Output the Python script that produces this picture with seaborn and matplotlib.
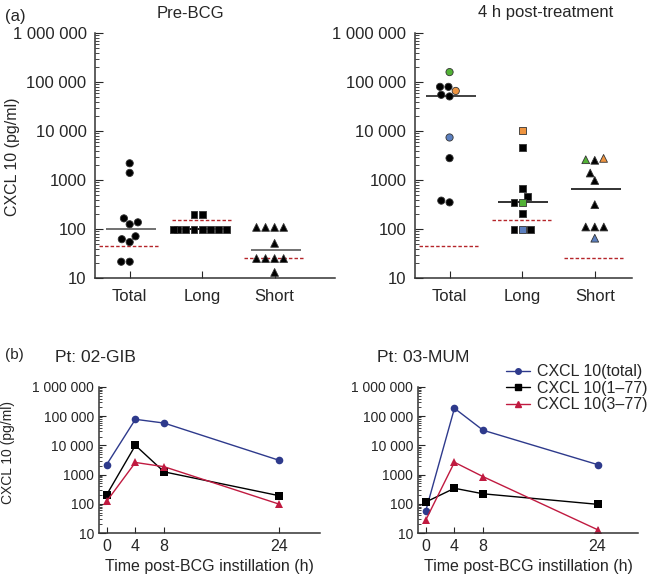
import numpy as np
import pandas as pd
import matplotlib
matplotlib.use('Agg')
import matplotlib.pyplot as plt
import seaborn as sns
import warnings

warnings.filterwarnings('ignore')

# ---- panel (a) data ----
groups = ['Total', 'Long', 'Short']
pre_total = [2200, 1400, 165, 125, 137, 62, 54, 71, 21.5, 21.5]
pre_long = [195, 195, 100, 100, 100, 100, 100, 100, 100, 100]
pre_short = [108, 108, 108, 108, 51, 25, 25, 25, 25, 13]
post_total = [160000, 80000, 80000, 66000, 55000, 51000, 7400, 2800, 350, 380]
post_total_pt = ['G', 'k', 'k', 'O', 'k', 'k', 'B', 'k', 'k', 'k']
post_long = [10100, 4600, 660, 470, 355, 355, 210, 100, 100, 100]
post_long_pt = ['O', 'k', 'k', 'k', 'G', 'k', 'k', 'B', 'k', 'k']
post_short = [2770, 2530, 2600, 1390, 980, 315, 110, 110, 110, 65]
post_short_pt = ['O', 'k', 'G', 'k', 'k', 'k', 'k', 'k', 'k', 'B']
cutoff = [44, 150, 26]

# ---- panel (b) data ----
times = [0, 4, 8, 24]
forms = ['CXCL 10(total)', 'CXCL 10(1\u201377)', 'CXCL 10(3\u201377)']
gib_total = [2200, 78000, 58000, 3100]
gib_177 = [205, 10000, 1240, 190]
gib_377 = [122, 2600, 1860, 98]
mum_total = [58, 186000, 33000, 2200]
mum_177 = [115, 340, 220, 96]
mum_377 = [28, 2640, 850, 13]

pt_colors = {'k': 'black', 'G': '#52b236', 'O': '#ee9440', 'B': '#5b7fbf'}
line_colors = ['#2e3a8c', 'black', '#c01a40']
markers = ['o', 's', '^']

sns.set_style('ticks')
plt.rcParams['font.family'] = ['Liberation Sans', 'DejaVu Sans']

fig = plt.figure(figsize=(6.5, 5.81), dpi=100)
ax1 = fig.add_axes([0.146, 0.5215, 0.369, 0.4215])
ax2 = fig.add_axes([0.638, 0.5215, 0.334, 0.4215])
ax3 = fig.add_axes([0.152, 0.0826, 0.340, 0.2514])
ax4 = fig.add_axes([0.643, 0.0826, 0.339, 0.2514])

yt = [10, 100, 1000, 10000, 100000, 1000000]
ylab = ['10', '100', '1000', '10 000', '100 000', '1 000 000']


def scatter_panel(ax, vals, pts, med_colors, xmax):
    ax.set_yscale('log')
    ax.set_ylim(10, 1e6)
    sizes = [5.2, 5.0, 5.6]
    for i, g in enumerate(groups):
        df = pd.DataFrame({'group': g, 'value': vals[i], 'pt': pts[i]})
        sns.swarmplot(data=df, x='group', y='value', hue='pt', order=groups,
                      palette=pt_colors, marker=markers[i], size=sizes[i],
                      linewidth=0.6, edgecolor='#333333', legend=False, ax=ax)
        ax.hlines(np.median(vals[i]), i - 0.33, i + 0.36, color=med_colors[i],
                  lw=1.3, zorder=1)
        ax.hlines(cutoff[i], i - 0.42, i + 0.42, color='#b5252a', lw=1,
                  linestyles=(0, (2.5, 1.5)), zorder=1)
    ax.set_xlim(-0.48, xmax)
    ax.set_yticks(yt)
    ax.set_yticklabels(ylab)
    ax.set_xlabel('')
    ax.set_ylabel('')
    ax.tick_params(axis='y', which='both', direction='in', labelsize=12, pad=6)
    ax.tick_params(axis='y', which='major', length=6)
    ax.tick_params(axis='y', which='minor', length=3)
    ax.tick_params(axis='x', direction='in', length=5, labelsize=12, pad=8)
    sns.despine(ax=ax)
    for s in ['left', 'bottom']:
        ax.spines[s].set_color('#333333')
        ax.spines[s].set_linewidth(1.1)


scatter_panel(ax1, [pre_total, pre_long, pre_short], [['k'] * 10] * 3,
              ['#666666', 'black', '#666666'], 2.83)
scatter_panel(ax2, [post_total, post_long, post_short],
              [post_total_pt, post_long_pt, post_short_pt],
              ['#333333', '#222222', '#222222'], 2.51)


def time_panel(ax, series):
    rows = []
    for f, s in zip(forms, series):
        for t, v in zip(times, s):
            rows.append({'time': t, 'value': v, 'form': f})
    df = pd.DataFrame(rows)
    ax.set_yscale('log')
    sns.lineplot(data=df, x='time', y='value', hue='form', style='form',
                 hue_order=forms, style_order=forms, palette=line_colors,
                 markers=markers, dashes=False, markersize=5.5, lw=1,
                 markeredgewidth=0, legend=False, ax=ax)
    ax.set_ylim(10, 1e6)
    ax.set_xlim(-1.1, 29.7)
    ax.set_xticks(times)
    ax.set_yticks(yt)
    ax.set_yticklabels(ylab)
    ax.set_ylabel('')
    ax.set_xlabel('Time post-BCG instillation (h)', fontsize=11.5, labelpad=4)
    ax.tick_params(axis='y', which='both', direction='in', labelsize=10)
    ax.tick_params(axis='y', which='major', length=5)
    ax.tick_params(axis='y', which='minor', length=2.5)
    ax.tick_params(axis='x', direction='in', length=4, labelsize=11.5, pad=4)
    sns.despine(ax=ax)
    for s in ['left', 'bottom']:
        ax.spines[s].set_color('#333333')
        ax.spines[s].set_linewidth(1.1)


time_panel(ax3, [gib_total, gib_177, gib_377])
time_panel(ax4, [mum_total, mum_177, mum_377])

handles = [plt.Line2D([], [], color=c, marker=m, markersize=4, lw=1)
           for c, m in zip(line_colors, markers)]
ax4.legend(handles, forms, loc='upper right', bbox_to_anchor=(1.07, 1.2),
           frameon=False, fontsize=11.5, handlelength=1.5, handletextpad=0.4,
           labelspacing=0.1, borderaxespad=0)

fig.text(5 / 650, 1 - 16 / 581, '(a)', fontsize=12, va='center')
fig.text(190 / 650, 1 - 13 / 581, 'Pre-BCG', fontsize=12, ha='center', va='center')
fig.text(546 / 650, 1 - 13 / 581, '4 h post-treatment', fontsize=12, ha='center', va='center')
fig.text(13 / 650, 1 - 157 / 581, 'CXCL 10 (pg/ml)', fontsize=11.5, rotation=90,
         ha='center', va='center')
fig.text(5 / 650, 1 - 355 / 581, '(b)', fontsize=11, va='center')
fig.text(55 / 650, 1 - 357 / 581, 'Pt: 02-GIB', fontsize=12.5, va='center')
fig.text(377 / 650, 1 - 357 / 581, 'Pt: 03-MUM', fontsize=12.5, va='center')
fig.text(8 / 650, 1 - 453 / 581, 'CXCL 10 (pg/ml)', fontsize=10, rotation=90,
         ha='center', va='center')

fig.savefig('out.png', dpi=100)
